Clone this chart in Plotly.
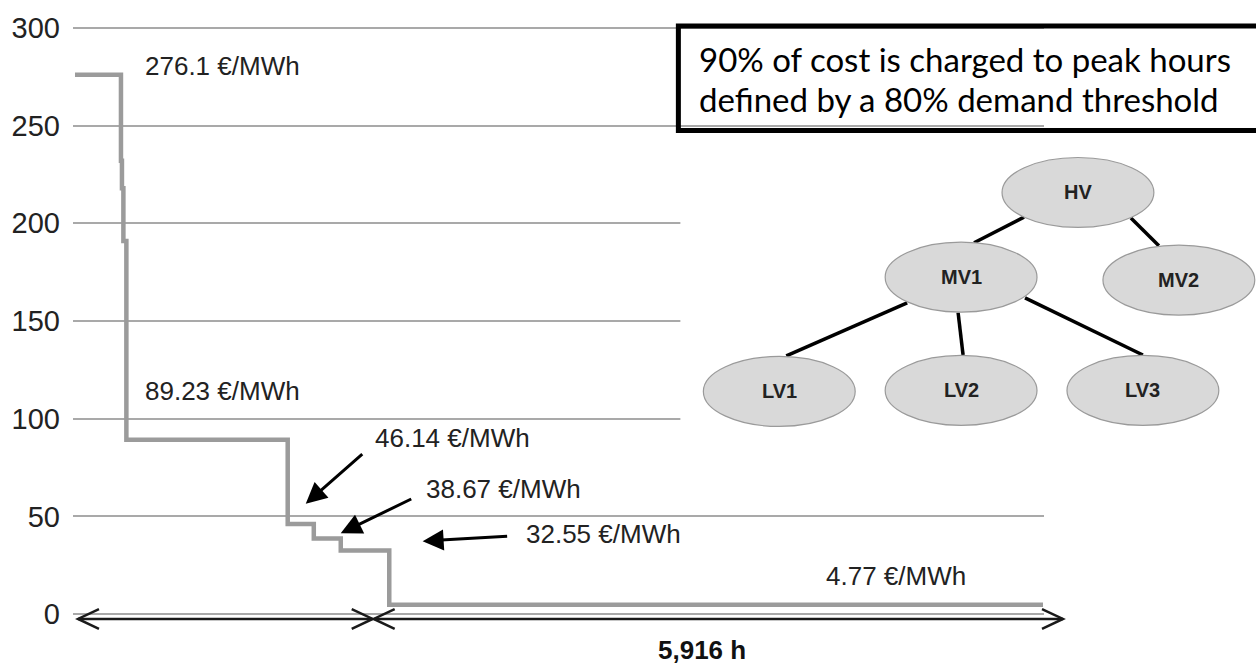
import plotly.graph_objects as go

# ---- data ----
hours = [0, 416, 425, 438, 465, 1925, 2161, 2405, 2844, 8760]
price = [276.1, 232, 218, 191, 89.23, 46.14, 38.67, 32.55, 4.77, 4.77]
price_labels = ["276.1 €/MWh", "89.23 €/MWh", "46.14 €/MWh", "38.67 €/MWh", "32.55 €/MWh", "4.77 €/MWh"]
y_ticks = [0, 50, 100, 150, 200, 250, 300]
offpeak_label = "5,916 h"
box_lines = ["90% of cost is charged to peak hours", "defined by a 80% demand threshold"]
nodes = ["HV", "MV1", "MV2", "LV1", "LV2", "LV3"]
edges = [("HV", "MV1"), ("HV", "MV2"), ("MV1", "LV1"), ("MV1", "LV2"), ("MV1", "LV3")]

W, H = 1256, 666
ML, MR, MT, MB = 72, 212, 17, 50
PW, PH = W - ML - MR, H - MT - MB


def px(p):
    return (p - ML) / PW


def py(q):
    return (H - MB - q) / PH


fig = go.Figure()
fig.add_trace(go.Scatter(x=hours, y=price, mode="lines", line_shape="hv",
                         line=dict(color="#9b9b9b", width=4.5), hoverinfo="skip",
                         showlegend=False))

shapes = []
annotations = []
TXT = dict(family="Liberation Sans, Arial, sans-serif", size=26, color="#222222")

# white panel behind the network diagram
shapes.append(dict(type="rect", xref="paper", yref="paper", x0=px(680), x1=px(1262),
                   y0=py(432), y1=py(128), fillcolor="white", line=dict(width=0), layer="above"))

# text box
shapes.append(dict(type="rect", xref="paper", yref="paper", x0=px(678), x1=px(1275),
                   y0=py(123), y1=py(17), line=dict(color="black", width=5),
                   fillcolor="rgba(0,0,0,0)"))
for line_text, yc in zip(box_lines, [50, 91]):
    annotations.append(dict(xref="paper", yref="paper", x=px(697), y=py(yc), text=line_text,
                            showarrow=False, xanchor="left", yanchor="middle",
                            font=dict(family="Lato, Open Sans, sans-serif", size=33, color="black")))

# network diagram
node_pos = {"HV": (1078, 186), "MV1": (961, 272), "MV2": (1179, 275),
            "LV1": (779, 388), "LV2": (961, 387), "LV3": (1143, 387)}
edge_pts = {("HV", "MV1"): ((1024, 211), (974, 237)),
            ("HV", "MV2"): ((1131, 212), (1159, 240)),
            ("MV1", "LV1"): ((907, 298), (786, 352)),
            ("MV1", "LV2"): ((958, 308), (963, 351)),
            ("MV1", "LV3"): ((1025, 293), (1143, 351))}
for e in edges:
    (x0, y0), (x1, y1) = edge_pts[e]
    shapes.append(dict(type="line", xref="paper", yref="paper", x0=px(x0), y0=py(y0),
                       x1=px(x1), y1=py(y1), line=dict(color="black", width=3.5)))
for n in nodes:
    cx, cy = node_pos[n]
    shapes.append(dict(type="circle", xref="paper", yref="paper", x0=px(cx - 76), x1=px(cx + 76),
                       y0=py(cy + 35.5), y1=py(cy - 35.5), fillcolor="#d9d9d9",
                       line=dict(color="#9a9a9a", width=1.2)))
    annotations.append(dict(xref="paper", yref="paper", x=px(cx), y=py(cy), text="<b>%s</b>" % n,
                            showarrow=False, xanchor="center", yanchor="middle",
                            font=dict(family="Liberation Sans, Arial, sans-serif", size=20, color="#222222")))

# price labels
label_pos = [(142, 58), (142, 388), (372, 435), (423, 487), (523, 533), (824, 575)]
for t, (lx, ly) in zip(price_labels, label_pos):
    annotations.append(dict(xref="paper", yref="paper", x=px(lx), y=py(ly), text=t,
                            showarrow=False, xanchor="left", yanchor="middle", font=TXT))

# pointer arrows
for (hx, hy), (tx, tyy) in [((305, 502), (363, 451)), ((340, 532), (412, 497)), ((422, 540), (508, 535))]:
    annotations.append(dict(xref="paper", yref="paper", x=px(hx), y=py(hy), ax=tx - hx, ay=tyy - hy,
                            text="", showarrow=True, arrowhead=2, arrowsize=1.4, arrowwidth=3,
                            arrowcolor="black", standoff=0, startstandoff=0))

# duration double arrows
AY = 619
for a, b in [(77, 372), (373, 1063)]:
    shapes.append(dict(type="line", xref="paper", yref="paper", x0=px(a), x1=px(b), y0=py(AY), y1=py(AY),
                       line=dict(color="#1a1a1a", width=2.5)))
    for tip, d in [(a, 1), (b, -1)]:
        path = "M %f %f L %f %f L %f %f" % (px(tip + 21 * d), py(AY - 10), px(tip), py(AY),
                                            px(tip + 21 * d), py(AY + 10))
        shapes.append(dict(type="path", xref="paper", yref="paper", path=path,
                           line=dict(color="#1a1a1a", width=2.5)))
annotations.append(dict(xref="paper", yref="paper", x=px(702), y=py(651), text="<b>%s</b>" % offpeak_label,
                        showarrow=False, xanchor="center", yanchor="middle",
                        font=dict(family="Liberation Sans, Arial, sans-serif", size=26, color="#111111")))

fig.update_layout(
    width=W, height=H, margin=dict(l=ML, r=MR, t=MT, b=MB),
    paper_bgcolor="white", plot_bgcolor="white", showlegend=False,
    xaxis=dict(range=[-18, 8769], showgrid=False, zeroline=False, showticklabels=False,
               showline=False, ticks=""),
    yaxis=dict(range=[-1, 301], tickvals=y_ticks, showgrid=True, gridcolor="#a9a9a9", gridwidth=2,
               zeroline=False, showline=False, ticks="", ticklabelstandoff=12,
               tickfont=dict(family="Liberation Sans, Arial, sans-serif", size=29, color="#222222")),
    shapes=shapes, annotations=annotations,
)

fig.write_html("out.html", config={"displayModeBar": False},
               post_script="document.body.style.margin='0';")
